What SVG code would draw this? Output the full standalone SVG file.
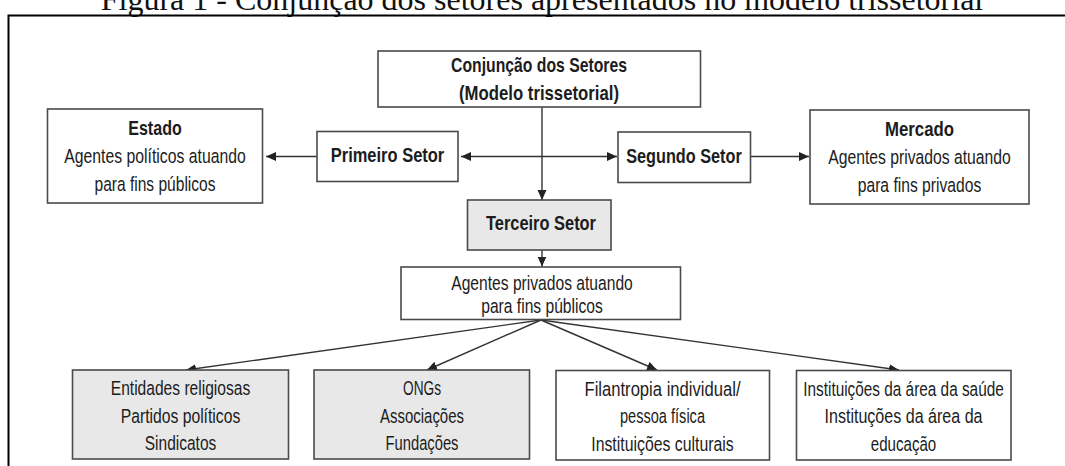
<svg xmlns="http://www.w3.org/2000/svg" width="1065" height="466" viewBox="0 0 1065 466">
<style>
.box{fill:#fff;stroke:#4a4a4a;stroke-width:1.6}
.gray{fill:#e8e8e8}
.t{font-family:"Liberation Sans","Arial",sans-serif;font-size:20.5px;fill:#1c1c1c;text-anchor:middle}
.b{font-weight:bold;font-size:20.5px}
.ln{stroke:#333;stroke-width:1.4;fill:none}
.title{font-family:"Liberation Serif","Times New Roman",serif;font-size:32px;fill:#111;text-anchor:middle}
</style>
<defs>
<marker id="ah" markerUnits="userSpaceOnUse" markerWidth="12" markerHeight="10" refX="10" refY="4.5" orient="auto-start-reverse" viewBox="0 0 12 10">
<path d="M0,0 L10,4.5 L0,9 Z" fill="#222"/>
</marker>
</defs>
<rect width="1065" height="466" fill="#fff"/>
<text class="title" x="542" y="10">Figura 1 - Conjunção dos setores apresentados no modelo trissetorial</text>
<rect x="8.5" y="15.5" width="1070" height="470" fill="none" stroke="#000" stroke-width="2"/>
<g id="connectors">
<line class="ln" x1="317" y1="156.5" x2="266" y2="156.5" marker-end="url(#ah)"/>
<line class="ln" x1="461" y1="156.5" x2="617" y2="156.5" marker-start="url(#ah)" marker-end="url(#ah)"/>
<line class="ln" x1="750" y1="156.5" x2="809" y2="156.5" marker-end="url(#ah)"/>
<line class="ln" x1="542" y1="107" x2="542" y2="200" marker-end="url(#ah)"/>
<line class="ln" x1="542" y1="250" x2="542" y2="266.5" marker-end="url(#ah)"/>
<line class="ln" x1="541" y1="320" x2="186" y2="370" marker-end="url(#ah)"/>
<line class="ln" x1="541" y1="320" x2="427" y2="370" marker-end="url(#ah)"/>
<line class="ln" x1="541" y1="320" x2="657" y2="370" marker-end="url(#ah)"/>
<line class="ln" x1="541" y1="320" x2="899" y2="370" marker-end="url(#ah)"/>
</g>
<g id="conjuncao">
<rect class="box" x="378" y="51" width="322.5" height="56"/>
<text class="t b" x="539" y="71.5" textLength="176" lengthAdjust="spacingAndGlyphs">Conjunção dos Setores</text>
<text class="t b" x="539" y="100" textLength="160" lengthAdjust="spacingAndGlyphs">(Modelo trissetorial)</text>
</g>
<g id="estado">
<rect class="box" x="47.5" y="109" width="215" height="94"/>
<text class="t b" x="155" y="135" textLength="53.5" lengthAdjust="spacingAndGlyphs">Estado</text>
<text class="t" x="155" y="163" textLength="181.5" lengthAdjust="spacingAndGlyphs">Agentes políticos atuando</text>
<text class="t" x="155" y="191" textLength="121" lengthAdjust="spacingAndGlyphs">para fins públicos</text>
</g>
<g id="primeiro">
<rect class="box" x="317" y="131.5" width="141" height="50"/>
<text class="t b" x="387.5" y="162" textLength="113.5" lengthAdjust="spacingAndGlyphs">Primeiro Setor</text>
</g>
<g id="segundo">
<rect class="box" x="618" y="132" width="132.5" height="50.5"/>
<text class="t b" x="684" y="162.5" textLength="115.5" lengthAdjust="spacingAndGlyphs">Segundo Setor</text>
</g>
<g id="mercado">
<rect class="box" x="810" y="110" width="219" height="94"/>
<text class="t b" x="919.5" y="136" textLength="69" lengthAdjust="spacingAndGlyphs">Mercado</text>
<text class="t" x="919.5" y="164" textLength="182.5" lengthAdjust="spacingAndGlyphs">Agentes privados atuando</text>
<text class="t" x="919.5" y="192" textLength="123.5" lengthAdjust="spacingAndGlyphs">para fins privados</text>
</g>
<g id="terceiro">
<rect class="box gray" x="467.5" y="200" width="143.5" height="50"/>
<text class="t b" x="541" y="230" textLength="110" lengthAdjust="spacingAndGlyphs">Terceiro Setor</text>
</g>
<g id="agentes">
<rect class="box" x="401" y="267" width="279.5" height="52.5"/>
<text class="t" x="542" y="289.5" textLength="181.5" lengthAdjust="spacingAndGlyphs">Agentes privados atuando</text>
<text class="t" x="542" y="313" textLength="121.5" lengthAdjust="spacingAndGlyphs">para fins públicos</text>
</g>
<g id="religiosas">
<rect class="box gray" x="72.5" y="370" width="216" height="89"/>
<text class="t" x="180.5" y="395" textLength="139.5" lengthAdjust="spacingAndGlyphs">Entidades religiosas</text>
<text class="t" x="180.5" y="422.5" textLength="119.5" lengthAdjust="spacingAndGlyphs">Partidos políticos</text>
<text class="t" x="180.5" y="450" textLength="71.5" lengthAdjust="spacingAndGlyphs">Sindicatos</text>
</g>
<g id="ongs">
<rect class="box gray" x="314" y="370" width="215.5" height="89"/>
<text class="t" x="422" y="395" textLength="38" lengthAdjust="spacingAndGlyphs">ONGs</text>
<text class="t" x="422" y="422.5" textLength="84" lengthAdjust="spacingAndGlyphs">Associações</text>
<text class="t" x="422" y="450" textLength="73" lengthAdjust="spacingAndGlyphs">Fundações</text>
</g>
<g id="filantropia">
<rect class="box" x="556" y="370.5" width="213.5" height="89.5"/>
<text class="t" x="662.5" y="395.5" textLength="156" lengthAdjust="spacingAndGlyphs">Filantropia individual/</text>
<text class="t" x="662.5" y="423" textLength="85" lengthAdjust="spacingAndGlyphs">pessoa física</text>
<text class="t" x="662.5" y="450.5" textLength="142.5" lengthAdjust="spacingAndGlyphs">Instituições culturais</text>
</g>
<g id="instituicoes">
<rect class="box" x="796.5" y="370.5" width="214.5" height="89.5"/>
<text class="t" x="903.5" y="395.5" textLength="200.5" lengthAdjust="spacingAndGlyphs">Instituições da área da saúde</text>
<text class="t" x="903.5" y="423" textLength="158" lengthAdjust="spacingAndGlyphs">Instituções da área da</text>
<text class="t" x="903.5" y="450.5" textLength="65.5" lengthAdjust="spacingAndGlyphs">educação</text>
</g>
</svg>
